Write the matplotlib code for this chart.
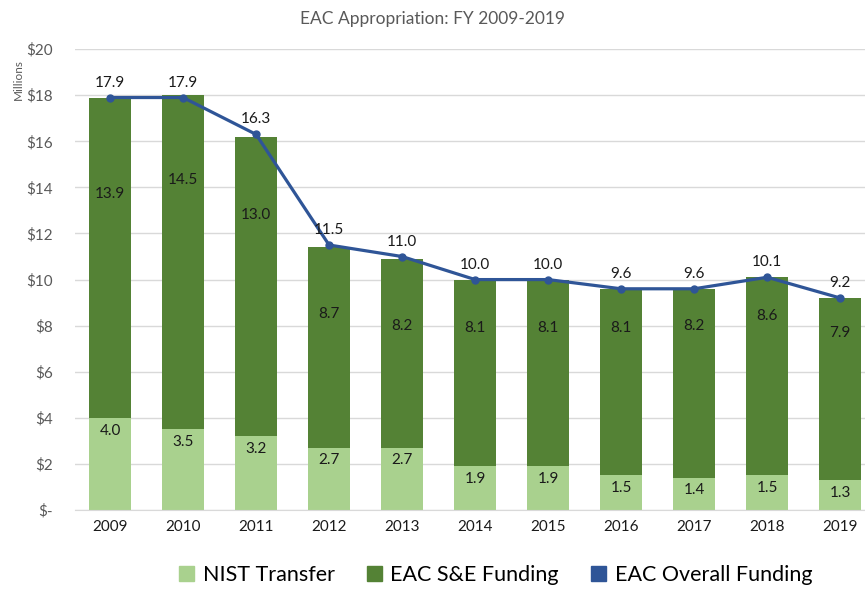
import matplotlib.pyplot as plt
import numpy as np
from matplotlib.patches import Patch

plt.rcParams['font.family'] = ['Lato', 'DejaVu Sans']

years = ['2009', '2010', '2011', '2012', '2013', '2014', '2015', '2016', '2017', '2018', '2019']
nist = [4.0, 3.5, 3.2, 2.7, 2.7, 1.9, 1.9, 1.5, 1.4, 1.5, 1.3]
se_funding = [13.9, 14.5, 13.0, 8.7, 8.2, 8.1, 8.1, 8.1, 8.2, 8.6, 7.9]
overall = [17.9, 17.9, 16.3, 11.5, 11.0, 10.0, 10.0, 9.6, 9.6, 10.1, 9.2]

light_green = '#A9D18E'
dark_green = '#548235'
blue = '#2F5597'
grey = '#595959'

fig = plt.figure(figsize=(8.65, 5.92), dpi=100)
ax = fig.add_axes([0.0867, 0.1385, 0.9133, 0.7785])

x = np.arange(len(years))
w = 0.57
ax.bar(x, nist, w, color=light_green, zorder=2)
ax.bar(x, se_funding, w, bottom=nist, color=dark_green, zorder=2)
ax.plot(x, overall, color=blue, lw=2.3, marker='o', ms=5, zorder=3)

# data labels
for i in range(len(years)):
    ax.text(x[i], nist[i] - 0.55, f'{nist[i]:.1f}', ha='center', va='center', fontsize=11, color='#1a1a1a', zorder=4)
    ax.text(x[i], se_funding[i] - 0.2, f'{se_funding[i]:.1f}', ha='center', va='center', fontsize=11, color='#1a1a1a', zorder=4)
    ax.text(x[i], overall[i] + 0.65, f'{overall[i]:.1f}', ha='center', va='center', fontsize=11, color='#1a1a1a', zorder=4)

ax.set_ylim(0, 20)
ax.set_xlim(-0.48, 10.34)
ax.set_yticks(range(0, 21, 2))
ax.set_yticklabels(['$-'] + [f'${v}' for v in range(2, 21, 2)])
ax.set_xticks(x)
ax.set_xticklabels(years)
ax.tick_params(axis='y', length=0, pad=16, labelsize=11, labelcolor=grey)
ax.tick_params(axis='x', length=0, pad=7, labelsize=11, labelcolor='#1a1a1a')
ax.grid(axis='y', color='#D9D9D9', lw=1, zorder=0)
for s in ['top', 'right', 'left']:
    ax.spines[s].set_visible(False)
ax.spines['bottom'].set_color('#D9D9D9')

fig.text(0.5, 0.968, 'EAC Appropriation: FY 2009-2019', ha='center', va='center', fontsize=12.5, color=grey)
fig.text(0.021, 0.865, 'Millions', rotation=90, ha='center', va='center', fontsize=8.5, color=grey)

handles = [Patch(color=light_green), Patch(color=dark_green), Patch(color=blue)]
labels = ['NIST Transfer', 'EAC S&E Funding', 'EAC Overall Funding']
fig.legend(handles, labels, loc='center', bbox_to_anchor=(0.573, 0.028), ncol=3, frameon=False,
           fontsize=15.5, handlelength=0.7, handleheight=0.7, handletextpad=0.4, columnspacing=1.5)

fig.savefig('out.png', dpi=100)
